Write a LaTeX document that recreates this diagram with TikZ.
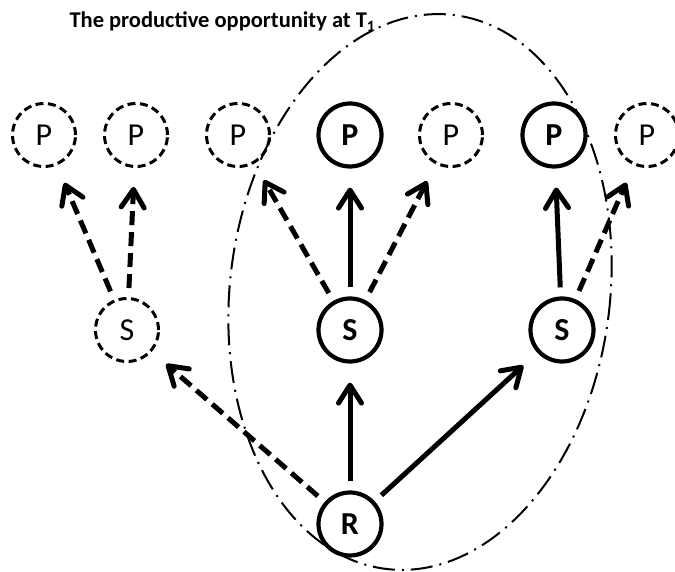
\documentclass[tikz,border=0pt]{standalone}
\usepackage{fontspec}
\setmainfont{Carlito}
\usetikzlibrary{arrows.meta}

\begin{document}
\begin{tikzpicture}[x=1pt, y=1pt,
        unit/.style={circle, minimum size=63pt, inner sep=0pt,
            font=\fontsize{32}{32}\selectfont},
        ghost/.style={unit, draw, line width=3pt, dash pattern=on 8pt off 4.5pt},
        real/.style={unit, draw, line width=4.2pt,
            font=\fontsize{32}{32}\selectfont\bfseries},
        link/.style={line width=5pt, shorten <=9pt, shorten >=19pt,
            -{Straight Barb[length=18pt, width=23pt, line cap=round, line join=round]}},
        maybe/.style={link, dash pattern=on 14pt off 7pt}]
        \useasboundingbox (0, 0) rectangle (675, 572);
        \draw[line width=2pt, dash pattern=on 22pt off 7pt on 2pt off 7pt,
            rotate around={-7:(420, 280)}] (420, 280) ellipse [x radius=190, y radius=279];
        \node[anchor=base west, font=\fontsize{22.5}{22.5}\selectfont\bfseries] (title)
            at (66, 544) {The productive opportunity at T\textsubscript{1}};

        \node[real] (r) at (350, 48) {R};
        \node[ghost] (s1) at (127, 242) {S};
        \node[real] (s2) at (350, 242) {S};
        \node[real] (s3) at (562, 242) {S};

        \node[ghost] (p1) at (44, 437) {P};
        \node[ghost] (p2) at (136, 437) {P};
        \node[ghost] (p3) at (238, 437) {P};
        \node[real] (p4) at (350, 437) {P};
        \node[ghost] (p5) at (451, 437) {P};
        \node[real] (p6) at (554, 437) {P};
        \node[ghost] (p7) at (647, 437) {P};

        \draw[maybe] (r) -- (s1);
        \draw[link] (r) -- (s2);
        \draw[link] (r) -- (s3);
        \draw[maybe] (s1) -- (p1);
        \draw[maybe] (s1) -- (p2);
        \draw[maybe] (s2) -- (p3);
        \draw[link] (s2) -- (p4);
        \draw[maybe] (s2) -- (p5);
        \draw[link] (s3) -- (p6);
        \draw[maybe] (s3) -- (p7);
    \end{tikzpicture}
\end{document}
